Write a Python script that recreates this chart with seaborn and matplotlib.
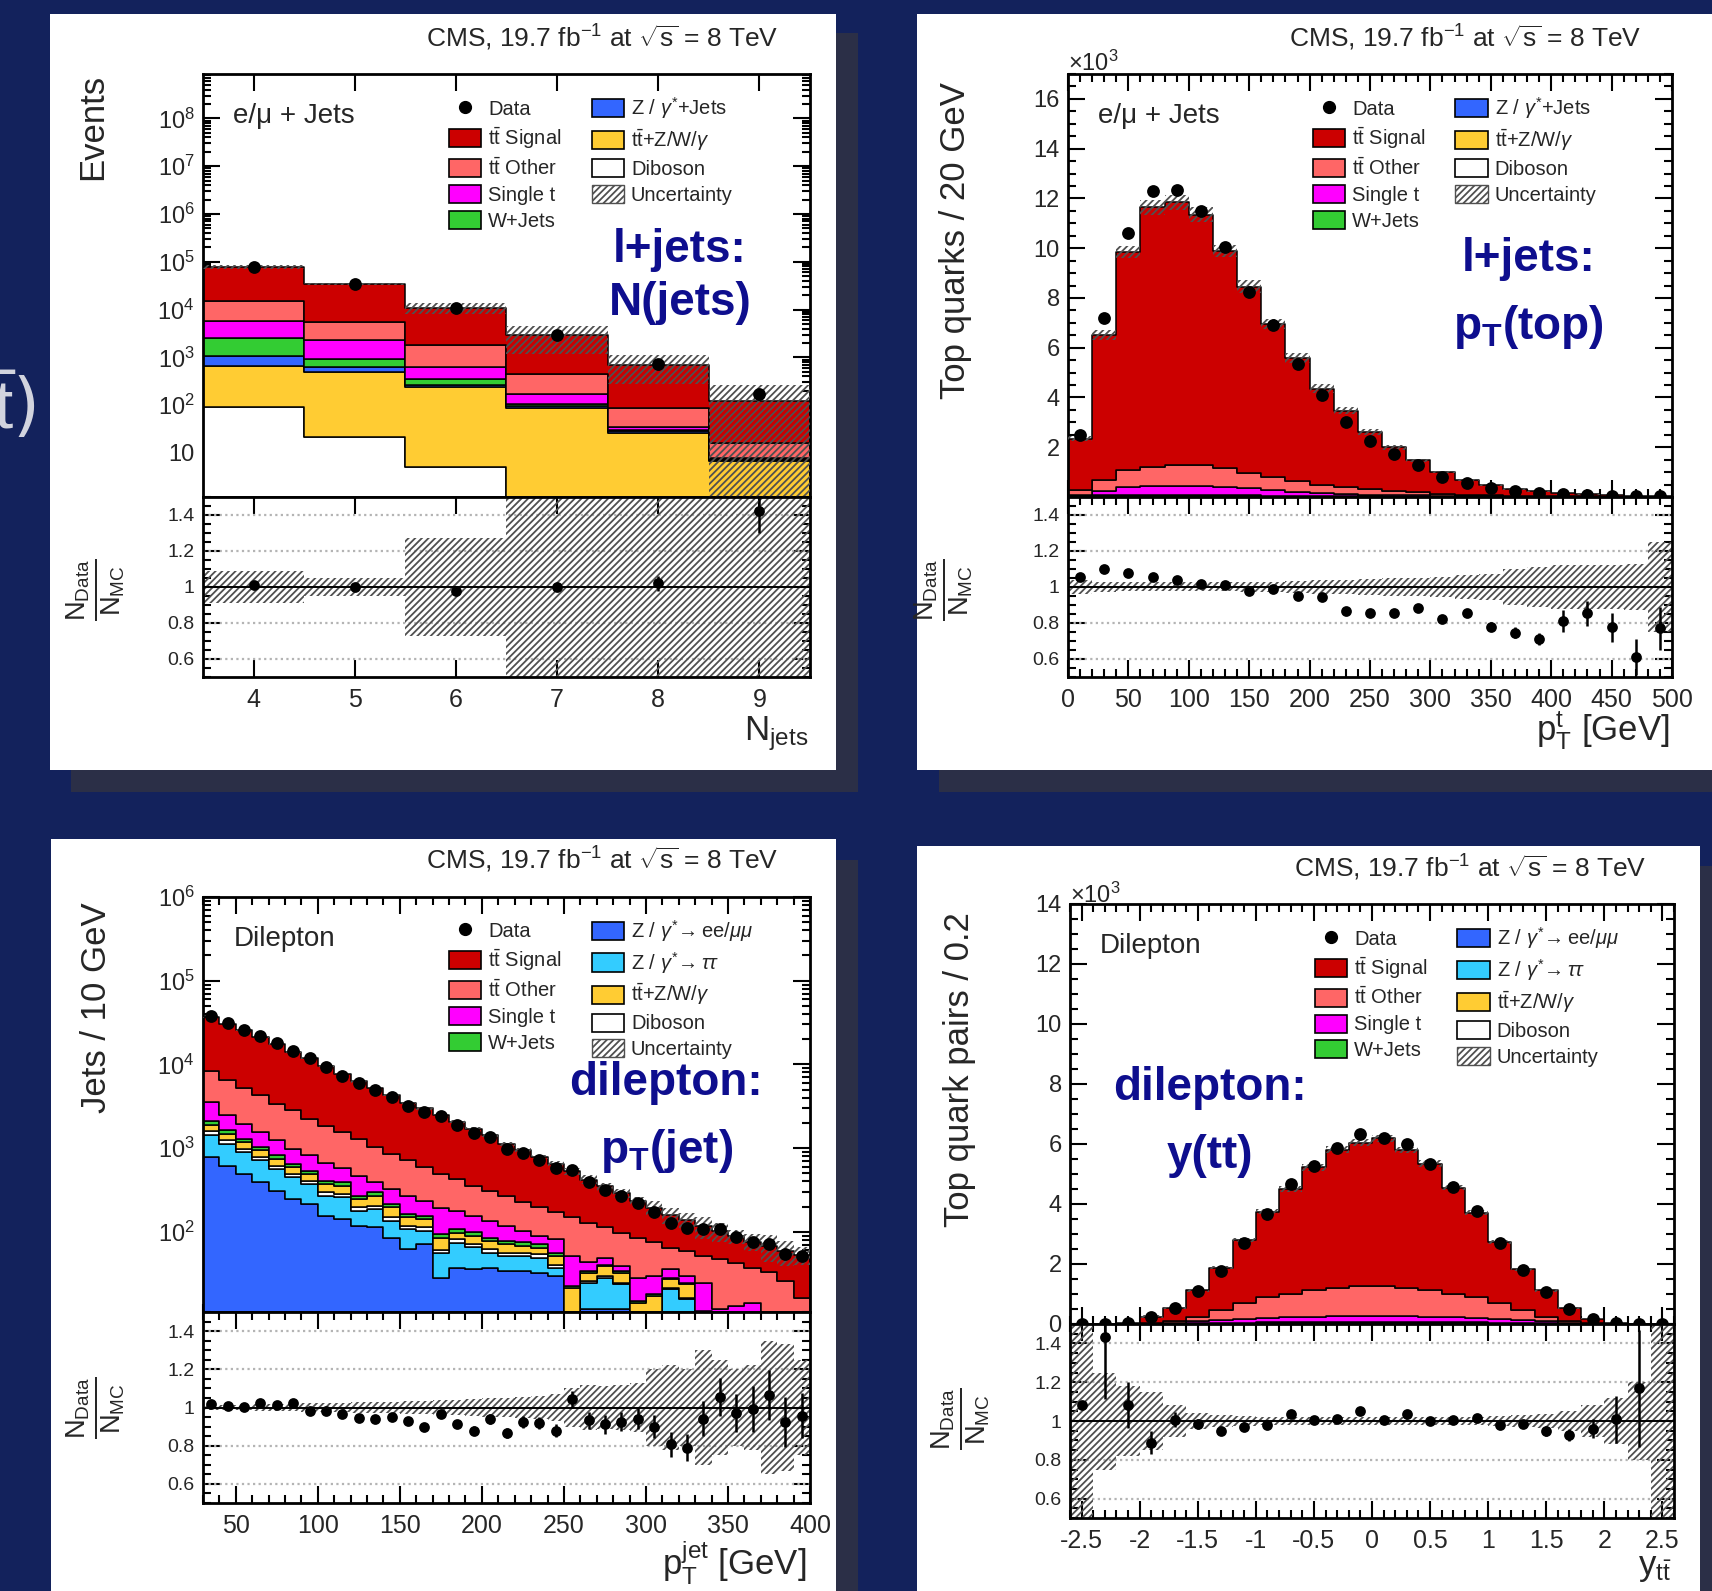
import numpy as np
import pandas as pd
import matplotlib
matplotlib.use("Agg")
import matplotlib.pyplot as plt
from matplotlib.patches import Patch, Rectangle
from matplotlib.lines import Line2D
from matplotlib.ticker import FixedLocator, MultipleLocator, FuncFormatter, NullFormatter, LogLocator
import seaborn as sns

# ---------------- data ----------------
# l+jets : N(jets)
njets = [4, 5, 6, 7, 8, 9]
nj_signal = [63200, 29400, 9220, 2440, 621, 104]
nj_other = [8900, 3300, 1150, 289, 54, 8.6]
nj_singlet = [3330, 1365, 283, 66, 5, 0.5]
nj_wjets = [1500, 305, 82, 8, 2, 0.3]
nj_zjets = [420, 140, 29, 8, 2, 0.3]
nj_ttv = [557, 468, 231, 88, 26, 6.8]
nj_diboson = [93, 22, 5.1, 0.8, 0.2, 0.05]
nj_data = [78800, 35000, 10800, 2900, 724, 170]
nj_ratio = [1.01, 1.00, 0.98, 1.00, 1.02, 1.42]
nj_ratio_err = [0.003, 0.005, 0.01, 0.02, 0.04, 0.12]
nj_unc = [0.09, 0.05, 0.27, 0.6, 0.6, 1.15]

# l+jets : pT(top), in units of 10^3
pt_top_signal = [2.08, 5.83, 8.76, 10.42, 10.56, 10.08, 8.74, 7.48, 6.15, 4.97, 3.86, 3.07, 2.31,
                 1.76, 1.29, 0.87, 0.57, 0.40, 0.28, 0.19, 0.13, 0.09, 0.055, 0.03, 0.02]
pt_top_other = [0.17, 0.42, 0.69, 0.78, 0.82, 0.81, 0.74, 0.62, 0.52, 0.41, 0.32, 0.27, 0.21,
                0.16, 0.12, 0.085, 0.065, 0.045, 0.03, 0.025, 0.02, 0.012, 0.009, 0.005, 0.006]
pt_top_singlet = [0.05, 0.17, 0.30, 0.35, 0.37, 0.38, 0.34, 0.29, 0.23, 0.17, 0.14, 0.10, 0.075,
                  0.065, 0.045, 0.033, 0.025, 0.017, 0.014, 0.01, 0.007, 0.005, 0.004, 0.003, 0.002]
pt_top_wjets = [0.03, 0.05, 0.06, 0.06, 0.06, 0.05, 0.05, 0.04, 0.03, 0.03, 0.02, 0.02, 0.015,
                0.01, 0.01, 0.008, 0.006, 0.005, 0.004, 0.003, 0.002, 0.002, 0.001, 0.001, 0.001]
pt_top_zjets = [0.01, 0.02, 0.02, 0.02, 0.02, 0.02, 0.015, 0.015, 0.01, 0.01, 0.008, 0.006, 0.005,
                0.004, 0.003, 0.002, 0.002, 0.001, 0.001, 0.001, 0.001, 0.0005, 0.0005, 0.0005, 0.0005]
pt_top_ttv = [0.002, 0.004, 0.006, 0.007, 0.008, 0.008, 0.008, 0.007, 0.006, 0.005, 0.004, 0.004, 0.003,
              0.003, 0.002, 0.002, 0.001, 0.001, 0.001, 0.001, 0.0005, 0.0005, 0.0005, 0.0003, 0.0003]
pt_top_diboson = [0.002, 0.003, 0.003, 0.003, 0.003, 0.003, 0.002, 0.002, 0.002, 0.002, 0.001, 0.001, 0.001,
                  0.001, 0.001, 0.0005, 0.0005, 0.0005, 0.0003, 0.0003, 0.0002, 0.0002, 0.0001, 0.0001, 0.0001]
pt_top_data = [2.5, 7.2, 10.6, 12.3, 12.35, 11.5, 10.05, 8.25, 6.9, 5.35, 4.1, 3.0, 2.25,
               1.72, 1.3, 0.82, 0.57, 0.37, 0.25, 0.16, 0.13, 0.094, 0.054, 0.024, 0.023]
pt_top_ratio = [1.055, 1.10, 1.08, 1.055, 1.04, 1.016, 1.013, 0.976, 0.99, 0.95, 0.944, 0.864, 0.858,
                0.858, 0.885, 0.82, 0.853, 0.78, 0.745, 0.71, 0.81, 0.853, 0.776, 0.61, 0.77]
pt_top_ratio_err = [0.004, 0.004, 0.004, 0.004, 0.004, 0.004, 0.005, 0.005, 0.006, 0.007, 0.008, 0.009, 0.01,
                    0.012, 0.013, 0.015, 0.02, 0.025, 0.03, 0.035, 0.06, 0.07, 0.08, 0.1, 0.12]
pt_top_unc = [0.04, 0.03, 0.025, 0.025, 0.025, 0.025, 0.025, 0.03, 0.03, 0.035, 0.04, 0.04, 0.045,
              0.05, 0.05, 0.055, 0.065, 0.07, 0.1, 0.11, 0.12, 0.12, 0.12, 0.13, 0.25]

# dilepton : pT(jet)
pt_jet_signal = [28460, 24100, 20290, 16880, 14200, 11150, 9790, 7696, 6043, 4966, 4178, 3476, 2729,
                 2379, 1979, 1627, 1354, 1112, 860, 715, 585, 480, 380, 291, 236, 192, 146, 118,
                 95, 80, 64.5, 54, 45.8, 39, 34.5, 32.4, 36.8]
pt_jet_other = [4753, 4020, 3193, 2729, 2168, 1849, 1432, 1192, 991, 824, 637, 530, 441, 357, 296,
                250, 200, 174, 152, 122, 106, 89, 97, 86, 64, 59, 57, 45, 29, 30, 27, 35, 30, 23,
                22, 16, 11]
pt_jet_singlet = [1477, 837, 666, 528, 419, 333, 278, 250, 190, 199, 95, 110, 107, 79, 102, 71, 58,
                  50, 40, 29, 18.5, 25, 29, 9, 8.3, 5, 13.4, 11.7, 7.3, 4.9, 13.4, 11.8, 12.9, 14.2,
                  10.8, 9.8, 5]
pt_jet_wjets = [183, 143, 113, 90, 72, 57, 47, 36, 34, 24, 26, 19, 14, 14, 8, 9.4, 8.6, 7.5, 6.8,
                6.5, 6.2, 4.9, 1.0, 1.5, 1.8, 1.5, 0.7, 0.8, 1.3, 1.1, 0.5, 0, 0, 0, 0, 0, 0]
pt_jet_ttv = [321, 251, 199, 159, 126, 100, 83, 77, 73, 51, 65, 47, 31, 29, 23.5, 16, 18.5, 16,
              14.5, 11.5, 11, 10.5, 21.5, 6.6, 9.5, 7.8, 14.2, 17.1, 5.5, 7.2, 10.8, 0, 0, 0, 0, 0, 0]
pt_jet_diboson = [139, 108, 86, 68, 54, 43, 36, 26, 25, 17, 18, 13, 10, 10, 5.4, 7.2, 6.2, 5.4, 5,
                  5, 4.7, 3.6, 0, 1.2, 1.3, 1.1, 0, 0, 1.0, 0.75, 0, 0, 0, 0, 0, 0, 0]
pt_jet_ztt = [665, 508, 403, 320, 255, 202, 158, 114, 116, 61, 74, 51, 46, 32, 28, 37, 29, 19.5,
              17.5, 17.5, 17, 7, 0, 12.7, 16, 11.6, 0, 0, 20.5, 15.6, 0, 0, 0, 0, 0, 0, 0]
pt_jet_zll = [780, 619, 492, 391, 310, 247, 215, 156, 142, 118, 113, 85, 62, 71, 28, 37, 36, 37,
              34, 34, 32, 30, 0, 12, 12, 12, 0, 0, 0, 0, 0, 0, 0, 0, 0, 0, 0]
pt_jet_data = [37400, 30900, 25570, 21630, 17850, 14290, 11840, 9376, 7341, 5922, 4899, 4110, 3196,
               2674, 2387, 1881, 1501, 1338, 979, 870, 716, 572, 551, 391, 318, 268, 218, 173, 129,
               110, 109, 107, 86, 75.7, 71.3, 53.8, 50.9]
pt_jet_ratio = [1.017, 1.01, 1.005, 1.022, 1.014, 1.022, 0.983, 0.98, 0.966, 0.946, 0.941, 0.949,
                0.929, 0.90, 0.966, 0.915, 0.878, 0.941, 0.866, 0.925, 0.917, 0.878, 1.042, 0.932,
                0.912, 0.925, 0.942, 0.90, 0.807, 0.79, 0.942, 1.056, 0.971, 0.992, 1.064, 0.925, 0.958]
pt_jet_ratio_err = [0.005, 0.005, 0.006, 0.006, 0.007, 0.008, 0.009, 0.01, 0.011, 0.012, 0.013,
                    0.015, 0.016, 0.018, 0.02, 0.022, 0.024, 0.026, 0.028, 0.03, 0.032, 0.035, 0.045,
                    0.045, 0.05, 0.05, 0.055, 0.06, 0.065, 0.07, 0.09, 0.1, 0.1, 0.12, 0.13, 0.13, 0.12]
pt_jet_unc = [0.015, 0.015, 0.015, 0.02, 0.02, 0.02, 0.025, 0.025, 0.025, 0.03, 0.03, 0.03, 0.035,
              0.035, 0.04, 0.04, 0.045, 0.05, 0.05, 0.055, 0.06, 0.07, 0.1, 0.12, 0.11, 0.12, 0.13,
              0.2, 0.22, 0.2, 0.3, 0.25, 0.2, 0.22, 0.35, 0.33, 0.25]

# dilepton : y(ttbar), in units of 10^3
y_tt_signal = [0.005, 0.007, 0.023, 0.22, 0.43, 0.90, 1.42, 2.10, 2.84, 3.50, 4.10, 4.61, 4.78,
               4.92, 4.60, 4.23, 3.55, 2.81, 2.04, 1.37, 0.90, 0.43, 0.15, 0.025, 0.009, 0.003]
y_tt_other = [0, 0, 0.003, 0.011, 0.063, 0.13, 0.33, 0.54, 0.70, 0.77, 0.87, 0.94, 1.0, 1.0, 0.94,
              0.87, 0.77, 0.70, 0.54, 0.33, 0.13, 0.063, 0.011, 0.003, 0, 0]
y_tt_singlet = [0, 0, 0.002, 0.01, 0.03, 0.06, 0.09, 0.12, 0.15, 0.17, 0.19, 0.2, 0.21, 0.21, 0.2,
                0.19, 0.17, 0.15, 0.12, 0.09, 0.06, 0.03, 0.01, 0.002, 0, 0]
y_tt_wjets = [0] * 26
y_tt_ttv = [0, 0, 0, 0.002, 0.004, 0.006, 0.008, 0.01, 0.012, 0.013, 0.014, 0.015, 0.015, 0.015,
            0.015, 0.014, 0.013, 0.012, 0.01, 0.008, 0.006, 0.004, 0.002, 0, 0, 0]
y_tt_diboson = [0, 0, 0, 0.001, 0.001, 0.002, 0.002, 0.003, 0.004, 0.004, 0.004, 0.005, 0.005,
                0.005, 0.005, 0.004, 0.004, 0.004, 0.003, 0.002, 0.002, 0.001, 0.001, 0, 0, 0]
y_tt_ztt = [0, 0, 0, 0.003, 0.006, 0.01, 0.012, 0.015, 0.018, 0.02, 0.02, 0.02, 0.02, 0.02, 0.02,
            0.02, 0.02, 0.018, 0.015, 0.012, 0.01, 0.006, 0.003, 0, 0, 0]
y_tt_zll = [0, 0, 0, 0.003, 0.006, 0.01, 0.012, 0.015, 0.018, 0.02, 0.02, 0.02, 0.02, 0.02, 0.02,
            0.02, 0.02, 0.018, 0.015, 0.012, 0.01, 0.006, 0.003, 0, 0, 0]
y_tt_data = [0.005, 0.01, 0.03, 0.22, 0.54, 1.10, 1.77, 2.71, 3.66, 4.67, 5.26, 5.88, 6.35, 6.21,
             6.01, 5.34, 4.56, 3.77, 2.69, 1.79, 1.06, 0.50, 0.17, 0.03, 0.01, 0.003]
y_tt_ratio = [1.083, 1.435, 1.083, 0.888, 1.007, 0.986, 0.947, 0.969, 0.978, 1.037, 1.007, 1.012,
              1.049, 1.003, 1.037, 0.998, 1.003, 1.015, 0.981, 0.983, 0.949, 0.927, 0.961, 1.008,
              1.168, np.nan]
y_tt_ratio_err = [0.0, 0.32, 0.12, 0.06, 0.04, 0.025, 0.02, 0.015, 0.015, 0.012, 0.012, 0.012, 0.012,
                  0.012, 0.012, 0.012, 0.012, 0.015, 0.015, 0.02, 0.025, 0.03, 0.05, 0.12, 0.3, 0.0]
y_tt_unc = [0.6, 0.25, 0.18, 0.15, 0.08, 0.04, 0.03, 0.025, 0.02, 0.02, 0.02, 0.02, 0.02, 0.02,
            0.02, 0.02, 0.02, 0.02, 0.025, 0.03, 0.035, 0.05, 0.08, 0.12, 0.2, 0.6]

# ---------------- style ----------------
BG = "#13225c"
SHADOW = "#2b2f47"
NAVY_TEXT = "#0e0e8e"
HATCH = "#505050"
COLORS = {"signal": "#cc0000", "other": "#ff6666", "singlet": "#ff00ff", "wjets": "#33cc33",
          "zjets": "#3366ff", "zll": "#3366ff", "ztt": "#33ccff", "ttv": "#ffcc33",
          "diboson": "#ffffff"}
LABELS = {"signal": r"$\mathrm{t\bar{t}}$ Signal", "other": r"$\mathrm{t\bar{t}}$ Other",
          "singlet": "Single t", "wjets": "W+Jets", "zjets": r"Z / $\gamma^{*}$+Jets",
          "zll": r"Z / $\gamma^{*}\!\rightarrow$ee/$\mu\mu$", "ztt": r"Z / $\gamma^{*}\!\rightarrow\tau\tau$",
          "ttv": r"$\mathrm{t\bar{t}}$+Z/W/$\gamma$", "diboson": "Diboson"}

sns.set_theme(style="ticks")
plt.rcParams["font.family"] = ["Liberation Sans", "DejaVu Sans"]
plt.rcParams.update({
    "mathtext.fontset": "custom",
    "mathtext.rm": "Liberation Sans",
    "mathtext.it": "Liberation Sans:italic",
    "mathtext.bf": "Liberation Sans:bold",
    "mathtext.sf": "Liberation Sans",
    "hatch.color": HATCH,
    "hatch.linewidth": 1.3,
    "axes.facecolor": "white",
})

W, H = 1712, 1591
fig = plt.figure(figsize=(W / 100, H / 100), dpi=100)
fig.patch.set_facecolor(BG)


def box(x0, y0, x1, y1, color, z):
    fig.add_artist(Rectangle((x0 / W, 1 - y1 / H), (x1 - x0) / W, (y1 - y0) / H,
                             transform=fig.transFigure, facecolor=color, edgecolor="none", zorder=z))


# slide shadows and white plot cards
box(71, 33, 858, 792, SHADOW, -3)
box(939, 33, 1712, 792, SHADOW, -3)
box(71, 860, 858, 1591, SHADOW, -3)
box(939, 866, 1712, 1591, SHADOW, -3)
box(50, 14, 836, 770, "white", -2)
box(917, 14, 1712, 770, "white", -2)
box(51, 839, 836, 1591, "white", -2)
box(917, 846, 1700, 1591, "white", -2)

# piece of the slide title peeking out at the left edge
fig.text(-0.004, 1 - 407 / H, r"$\bar{\mathrm{t}}$)", fontsize=50, color="#d2d4de",
         ha="left", va="center", family="DejaVu Sans")


def root_ticks(ax):
    ax.tick_params(which="both", direction="in", top=True, right=True, width=1.5, color="black")
    ax.tick_params(which="major", length=12)
    ax.tick_params(which="minor", length=6)
    for s in ax.spines.values():
        s.set_linewidth(2)
        s.set_color("black")


def log_label(v, pos):
    k = int(round(np.log10(v)))
    return "10" if k == 1 else r"10$^{%d}$" % k


def plain_label(v, pos):
    return "%g" % v


def make_panel(x0, x1, y0, y1, y2, edges, comps, order, data, ratio, ratio_err, unc,
               logy, ylim, legend_order, channel, blue_lines, blue_pos, xmajor, xminor):
    ax = fig.add_axes([x0 / W, 1 - y1 / H, (x1 - x0) / W, (y1 - y0) / H])
    rx = fig.add_axes([x0 / W, 1 - y2 / H, (x1 - x0) / W, (y2 - y1) / H], sharex=ax)
    edges = np.asarray(edges, dtype=float)
    centers = 0.5 * (edges[:-1] + edges[1:])

    frames = [pd.DataFrame({"x": centers, "w": comps[k], "proc": k}) for k in order]
    df = pd.concat(frames, ignore_index=True)
    sns.histplot(data=df, x="x", weights="w", hue="proc", hue_order=order, multiple="stack",
                 bins=edges.tolist(), element="step", fill=True, alpha=1,
                 palette={k: COLORS[k] for k in order}, edgecolor="black", linewidth=1.1,
                 legend=False, ax=ax)
    total = np.sum([np.asarray(comps[k], dtype=float) for k in order], axis=0)
    unc = np.asarray(unc)

    xs = np.repeat(edges, 2)[1:-1]
    floor = ylim[0] * 0.5 if logy else 0
    lo = np.clip(total * (1 - unc), floor, None)
    hi = total * (1 + unc)
    ax.fill_between(xs, np.repeat(lo, 2), np.repeat(hi, 2), facecolor="none", edgecolor=HATCH,
                    hatch="/////", linewidth=0, zorder=3)
    sns.scatterplot(x=centers, y=data, color="black", s=85, edgecolor="black", linewidth=0,
                    zorder=6, legend=False, ax=ax)

    if logy:
        ax.set_yscale("log")
        k0, k1 = int(np.ceil(np.log10(ylim[0]))), int(np.floor(np.log10(ylim[1])))
        ax.yaxis.set_major_locator(FixedLocator([10.0 ** k for k in range(k0, k1 + 1)]))
        ax.yaxis.set_major_formatter(FuncFormatter(log_label))
        ax.yaxis.set_minor_locator(LogLocator(base=10, subs=np.arange(2, 10), numticks=50))
        ax.yaxis.set_minor_formatter(NullFormatter())
    ax.set_ylim(*ylim)
    ax.set_xlim(edges[0], edges[-1])
    ax.set_xlabel("")
    ax.set_ylabel("")
    root_ticks(ax)
    ax.tick_params(axis="x", labelbottom=False)
    ax.tick_params(axis="y", labelsize=17, pad=6)

    # ratio panel
    rlo = np.clip(1 - unc, 0.3, None)
    rhi = np.clip(1 + unc, None, 1.7)
    rx.fill_between(xs, np.repeat(rlo, 2), np.repeat(rhi, 2), facecolor="none", edgecolor=HATCH,
                    hatch="/////", linewidth=0, zorder=2)
    for g in [0.6, 0.8, 1.2, 1.4]:
        rx.axhline(g, color="#b4b4b4", lw=1.6, ls=(0, (1, 1.5)), zorder=1)
    rx.axhline(1.0, color="black", lw=1.4, zorder=3)
    rx.errorbar(centers, ratio, yerr=ratio_err, fmt="none", ecolor="black", elinewidth=1.8,
                capsize=0, zorder=5)
    sns.scatterplot(x=centers, y=ratio, color="black", s=60, edgecolor="black", linewidth=0,
                    zorder=6, legend=False, ax=rx)
    rx.set_ylim(0.5, 1.5)
    rx.yaxis.set_major_locator(FixedLocator([0.6, 0.8, 1.0, 1.2, 1.4]))
    rx.yaxis.set_major_formatter(FuncFormatter(plain_label))
    rx.yaxis.set_minor_locator(MultipleLocator(0.05))
    rx.xaxis.set_major_locator(MultipleLocator(xmajor))
    rx.xaxis.set_major_formatter(FuncFormatter(plain_label))
    if xminor:
        rx.xaxis.set_minor_locator(MultipleLocator(xminor))
    else:
        rx.xaxis.set_minor_locator(plt.NullLocator())
    rx.set_xlabel("")
    rx.set_ylabel("")
    root_ticks(rx)
    rx.tick_params(axis="y", labelsize=14, pad=6)
    rx.tick_params(axis="x", labelsize=18, pad=8)
    rx.set_xlim(edges[0], edges[-1])

    # legend
    handles = [Line2D([], [], marker="o", color="black", ls="none", markersize=8.5)]
    labels = ["Data"]
    for k in legend_order:
        handles.append(Patch(facecolor=COLORS[k], edgecolor="black", linewidth=1.2))
        labels.append(LABELS[k])
    handles.append(Patch(facecolor="white", edgecolor=HATCH, hatch="/////", linewidth=1.0))
    labels.append("Uncertainty")
    ax.legend(handles, labels, loc="upper left", bbox_to_anchor=(0.405, 0.95), ncol=2,
              frameon=False, fontsize=14.5, handlelength=1.6, handleheight=1.0,
              labelspacing=0.3, columnspacing=1.5, handletextpad=0.35, borderaxespad=0,
              borderpad=0)
    ax.text(0.05, 0.90, channel, transform=ax.transAxes, fontsize=20, ha="left", va="center")
    for txt, (bx, by) in zip(blue_lines, blue_pos):
        ax.text(bx, by, txt, transform=ax.transAxes, fontsize=33, fontweight="bold",
                color=NAVY_TEXT, ha="center", va="center", zorder=10)
    return ax, rx


lj_order = ["signal", "other", "singlet", "wjets", "zjets", "ttv", "diboson"]
lj_legend = ["signal", "other", "singlet", "wjets", "zjets", "ttv", "diboson"]
dl_order = ["signal", "other", "singlet", "wjets", "ttv", "diboson", "ztt", "zll"]
dl_legend = ["signal", "other", "singlet", "wjets", "zll", "ztt", "ttv", "diboson"]

nj_edges = np.append(np.array(njets) - 0.5, njets[-1] + 0.5)
ax1, rx1 = make_panel(203, 810, 74, 497, 677, nj_edges,
                      {"signal": nj_signal, "other": nj_other, "singlet": nj_singlet,
                       "wjets": nj_wjets, "zjets": nj_zjets, "ttv": nj_ttv,
                       "diboson": nj_diboson},
                      lj_order, nj_data, nj_ratio, nj_ratio_err, nj_unc, True, (1.2, 8.5e8),
                      lj_legend, "e/μ + Jets", ["l+jets:", "N(jets)"],
                      [(0.786, 0.585), (0.786, 0.458)], 1, None)

ax2, rx2 = make_panel(1068, 1672, 74, 497, 677, np.arange(0, 501, 20),
                      {"signal": pt_top_signal, "other": pt_top_other, "singlet": pt_top_singlet,
                       "wjets": pt_top_wjets, "zjets": pt_top_zjets, "ttv": pt_top_ttv,
                       "diboson": pt_top_diboson},
                      lj_order, pt_top_data, pt_top_ratio, pt_top_ratio_err, pt_top_unc, False,
                      (0, 17), lj_legend, "e/μ + Jets", ["l+jets:", r"$\mathbf{p_T}$(top)"],
                      [(0.763, 0.562), (0.763, 0.402)], 50, 10)

ax3, rx3 = make_panel(203, 810, 897, 1312, 1503, np.arange(30, 401, 10),
                      {"signal": pt_jet_signal, "other": pt_jet_other, "singlet": pt_jet_singlet,
                       "wjets": pt_jet_wjets, "ttv": pt_jet_ttv, "diboson": pt_jet_diboson,
                       "ztt": pt_jet_ztt, "zll": pt_jet_zll},
                      dl_order, pt_jet_data, pt_jet_ratio, pt_jet_ratio_err, pt_jet_unc, True,
                      (11, 1e6), dl_legend, "Dilepton", ["dilepton:", r"$\mathbf{p_T}$(jet)"],
                      [(0.763, 0.553), (0.763, 0.388)], 50, 10)

ax4, rx4 = make_panel(1070, 1674, 904, 1324, 1518, np.linspace(-2.6, 2.6, 27),
                      {"signal": y_tt_signal, "other": y_tt_other, "singlet": y_tt_singlet,
                       "wjets": y_tt_wjets, "ttv": y_tt_ttv, "diboson": y_tt_diboson,
                       "ztt": y_tt_ztt, "zll": y_tt_zll},
                      dl_order, y_tt_data, y_tt_ratio, y_tt_ratio_err, y_tt_unc, False, (0, 14),
                      dl_legend, "Dilepton", ["dilepton:", "y(tt)"],
                      [(0.231, 0.562), (0.231, 0.399)], 0.5, 0.1)

# linear main axes: tick setup
ax2.yaxis.set_major_locator(FixedLocator(np.arange(2, 17, 2)))
ax2.yaxis.set_minor_locator(MultipleLocator(0.5))
ax2.yaxis.set_major_formatter(FuncFormatter(plain_label))
ax4.yaxis.set_major_locator(FixedLocator(np.arange(0, 15, 2)))
ax4.yaxis.set_minor_locator(MultipleLocator(0.5))
ax4.yaxis.set_major_formatter(FuncFormatter(plain_label))

# titles and axis labels (ROOT-style placement)
title = r"CMS, 19.7 fb$^{-1}$ at $\sqrt{\mathrm{s}}$ = 8 TeV"
for xr, yc in [(778, 38), (1641, 38), (778, 860), (1646, 868)]:
    fig.text(xr / W, 1 - yc / H, title, fontsize=19, ha="right", va="center")

for xc, yt, s in [(93, 74, "Events"), (955, 82, "Top quarks / 20 GeV"),
                  (96, 902, "Jets / 10 GeV"), (959, 912, "Top quark pairs / 0.2")]:
    fig.text(xc / W, 1 - yt / H, s, fontsize=25, rotation=90, ha="center", va="top")

ratio_lab = r"$\frac{\mathrm{N_{Data}}}{\mathrm{N_{MC}}}$"
for xc, yc in [(96, 590), (944, 590), (96, 1408), (961, 1419)]:
    fig.text(xc / W, 1 - yc / H, ratio_lab, fontsize=28, rotation=90, ha="center", va="center")

for xr, yc, s in [(808, 734, r"N$_{\rm jets}$"), (1670, 731, r"p$_{\rm T}^{\rm t}$ [GeV]"),
                  (806, 1563, r"p$_{\rm T}^{\rm jet}$ [GeV]"), (1672, 1568, r"y$_{\rm t\bar{t}}$")]:
    fig.text(xr / W, 1 - yc / H, s, fontsize=25, ha="right", va="center")

for xl, yc in [(1068, 63), (1070, 895)]:
    fig.text(xl / W, 1 - yc / H, r"$\times$10$^{3}$", fontsize=17, ha="left", va="center")

fig.savefig("out.png", dpi=100, facecolor=BG)
